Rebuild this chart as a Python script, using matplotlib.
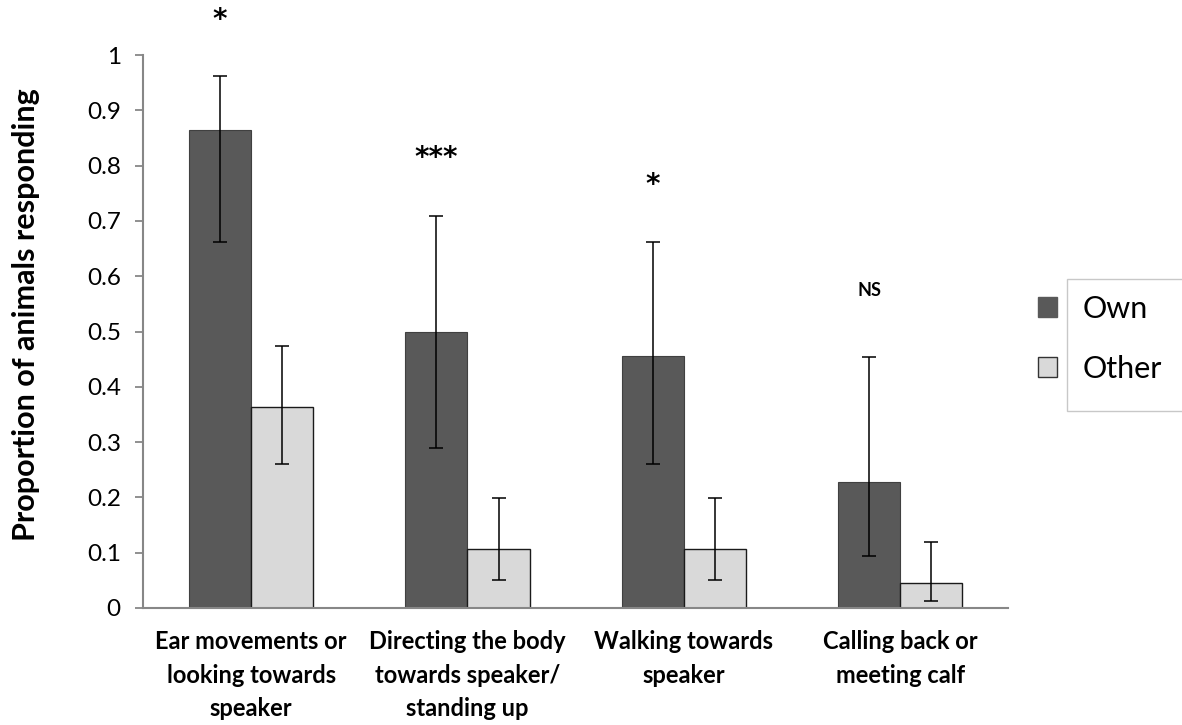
import matplotlib
matplotlib.use("Agg")
import matplotlib.pyplot as plt
import numpy as np
from matplotlib.patches import Rectangle, Patch

# Behavioural responses to playback of own vs. other calf calls
categories = ["Ear movements or\nlooking towards\nspeaker",
              "Directing the body\ntowards speaker/\nstanding up",
              "Walking towards\nspeaker",
              "Calling back or\nmeeting calf"]
own = [0.864, 0.500, 0.455, 0.227]
own_lo = [0.661, 0.290, 0.260, 0.094]
own_hi = [0.962, 0.709, 0.661, 0.453]
other = [0.364, 0.107, 0.107, 0.046]
other_lo = [0.261, 0.051, 0.051, 0.013]
other_hi = [0.474, 0.198, 0.198, 0.120]
significance = ["*", "***", "*", "NS"]
sig_heights = [1.063, 0.814, 0.765, 0.575]
yticks = [0, 0.1, 0.2, 0.3, 0.4, 0.5, 0.6, 0.7, 0.8, 0.9, 1]
ytick_labels = ["0", "0.1", "0.2", "0.3", "0.4", "0.5", "0.6", "0.7", "0.8", "0.9", "1"]

OWN_C = "#595959"
OTHER_C = "#d9d9d9"
AXIS_C = "#878787"
FONT = "Lato"

fig = plt.figure(figsize=(11.82, 7.25), dpi=100)
ax = fig.add_axes([0.121, 0.1614, 0.732, 0.7627])

x = np.arange(len(categories))
w = 0.287

own_err = [np.array(own) - np.array(own_lo), np.array(own_hi) - np.array(own)]
oth_err = [np.array(other) - np.array(other_lo), np.array(other_hi) - np.array(other)]

ax.bar(x - w / 2, own, width=w, color=OWN_C, edgecolor="#404040", linewidth=0.8,
       yerr=own_err, capsize=5,
       error_kw=dict(ecolor="black", elinewidth=1.1, capthick=1.1), zorder=2)
ax.bar(x + w / 2, other, width=w, color=OTHER_C, edgecolor="#1a1a1a", linewidth=1.0,
       yerr=oth_err, capsize=5,
       error_kw=dict(ecolor="black", elinewidth=1.1, capthick=1.1), zorder=2)

for xi, s, h in zip(x, significance, sig_heights):
    if s == "NS":
        ax.text(xi - w / 2, h, s, ha="center", va="center", fontsize=13,
                fontweight="bold", family=FONT, clip_on=False)
    else:
        ax.text(xi - w / 2, h, s, ha="center", va="center", fontsize=20,
                fontweight="bold", family="DejaVu Sans", clip_on=False)

ax.set_xlim(-0.5, 3.5)
ax.set_ylim(0, 1)
ax.set_yticks(yticks)
ax.set_yticklabels(ytick_labels, fontsize=17.5, family=FONT)
ax.set_xticks(x)
ax.set_xticklabels(categories, fontsize=17, fontweight="bold", family=FONT,
                   linespacing=1.55)
ax.tick_params(axis="x", length=0, pad=16)
ax.tick_params(axis="y", length=6, width=1.3, color=AXIS_C, pad=10)

for side in ["top", "right"]:
    ax.spines[side].set_visible(False)
for side in ["left", "bottom"]:
    ax.spines[side].set_color(AXIS_C)
    ax.spines[side].set_linewidth(1.5)

ax.set_ylabel("Proportion of animals responding", fontsize=22, fontweight="bold",
              family=FONT)
ax.yaxis.set_label_coords(-0.119, 0.53)

# Legend: swatches sit left of a light framed box holding the labels
fig.patches.append(Rectangle((1067 / 1182, 1 - 411 / 725), 0.2, 132 / 725,
                             transform=fig.transFigure, facecolor="white",
                             edgecolor="#c8c8c8", linewidth=1.0, zorder=0))
handles = [Patch(facecolor=OWN_C, edgecolor=OWN_C, label="Own"),
           Patch(facecolor=OTHER_C, edgecolor="#333333", label="Other")]
fig.legend(handles=handles, loc="upper left",
           bbox_to_anchor=(1038 / 1182, 1 - 295 / 725),
           frameon=False, prop=dict(family=FONT, size=22), borderpad=0,
           borderaxespad=0,
           handlelength=0.62, handleheight=0.62, handletextpad=0.85,
           labelspacing=1.05)

fig.savefig("out.png", dpi=100, facecolor="white")
